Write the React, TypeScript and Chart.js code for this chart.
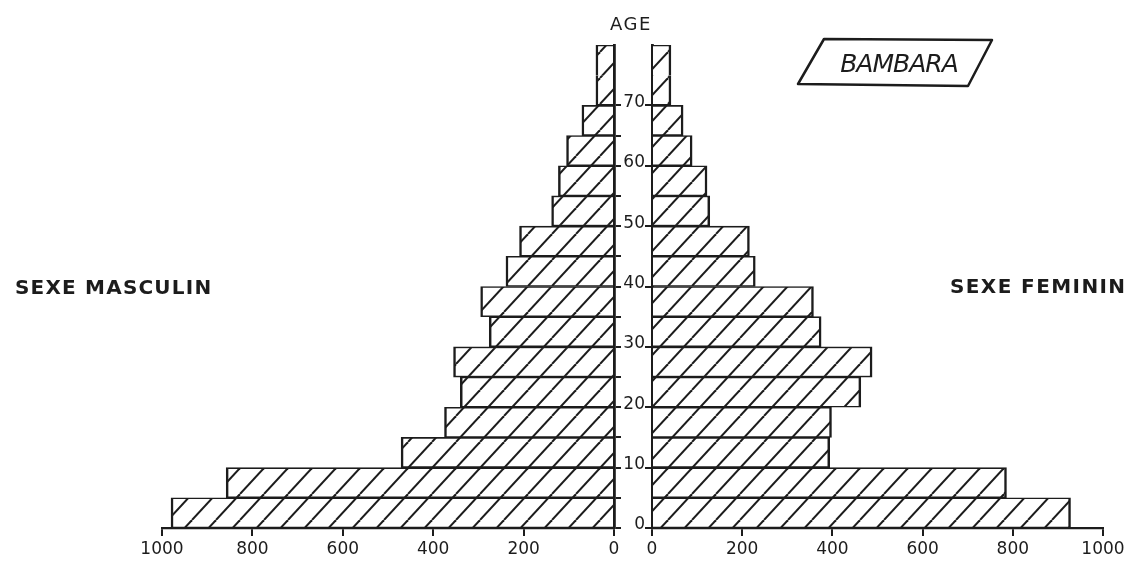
import React, { useEffect, useRef } from 'react';
import { Chart, registerables } from 'chart.js';

Chart.register(...registerables);

// ---- data ----
const ageGroups = ['0-4', '5-9', '10-14', '15-19', '20-24', '25-29', '30-34', '35-39', '40-44', '45-49', '50-54', '55-59', '60-64', '65-69', '70+'];
const groupStart = [0, 5, 10, 15, 20, 25, 30, 35, 40, 45, 50, 55, 60, 65, 70];
const groupSpan = [5, 5, 5, 5, 5, 5, 5, 5, 5, 5, 5, 5, 5, 5, 10];
const maleValues = [980, 858, 471, 375, 340, 355, 276, 295, 239, 209, 138, 123, 105, 71, 40];
const femaleValues = [928, 786, 394, 398, 463, 488, 375, 358, 229, 216, 128, 122, 89, 69, 42];
const valueTicks = [0, 200, 400, 600, 800, 1000];
const ageTicks = [0, 10, 20, 30, 40, 50, 60, 70];
const ageTickMarksMale = [0, 5, 10, 15, 20, 25, 30, 35, 40, 45, 50, 55, 60, 65, 70];
const ageMax = 80;

const INK = '#1c1c1c';
const FONT = 'DejaVu Sans';

function makeHatch(): CanvasPattern | string {
  const w = 24;
  const h = 26;
  const c = document.createElement('canvas');
  c.width = w;
  c.height = h;
  const g = c.getContext('2d');
  if (!g) return '#ffffff';
  g.fillStyle = '#ffffff';
  g.fillRect(0, 0, w, h);
  g.strokeStyle = INK;
  g.lineWidth = 2;
  for (const dx of [-w, 0, w]) {
    g.beginPath();
    g.moveTo(dx, h);
    g.lineTo(dx + w, 0);
    g.stroke();
  }
  return g.createPattern(c, 'repeat') ?? '#ffffff';
}

type Pt = { x: number; y: number; part: number; parts: number; group: string };

function buildPoints(values: number[]): Pt[] {
  const pts: Pt[] = [];
  values.forEach((v, i) => {
    const n = groupSpan[i] / 5;
    for (let k = 0; k < n; k++) {
      pts.push({ x: v, y: groupStart[i] + 5 * k + 2.5, part: k, parts: n, group: ageGroups[i] });
    }
  });
  return pts;
}

const barBorder = (isMale: boolean) => (ctx: any) => {
  const r = ctx.raw as Pt | undefined;
  const w = { top: 1.6, bottom: 1.6, left: 2.5, right: 2.5 };
  if (isMale) w.right = 0;
  else w.left = 0;
  if (r && r.parts > 1) {
    if (r.part > 0) w.bottom = 0;
    if (r.part < r.parts - 1) w.top = 0;
  }
  return w;
};

function makeChart(canvas: HTMLCanvasElement, side: 'male' | 'female', hatch: CanvasPattern | string) {
  const isMale = side === 'male';
  const tickFont = { family: FONT, size: 17 };
  const yTicks = isMale ? ageTickMarksMale : ageTicks;
  return new Chart(canvas, {
    type: 'bar',
    data: {
      datasets: [
        {
          label: isMale ? 'Sexe masculin' : 'Sexe féminin',
          data: buildPoints(isMale ? maleValues : femaleValues) as any,
          backgroundColor: hatch as any,
          borderColor: INK,
          borderWidth: barBorder(isMale) as any,
          borderSkipped: false,
          barPercentage: 1,
          categoryPercentage: 1,
          grouped: false,
        } as any,
      ],
    },
    options: {
      indexAxis: 'y',
      responsive: false,
      maintainAspectRatio: false,
      animation: false,
      events: [],
      layout: {
        padding: isMale ? { left: 162, top: 45, right: 0, bottom: 0 } : { left: 0, top: 45, right: 31, bottom: 0 },
      },
      plugins: { legend: { display: false }, tooltip: { enabled: false }, title: { display: false } },
      scales: {
        x: {
          type: 'linear',
          reverse: isMale,
          min: 0,
          max: 1000,
          afterBuildTicks: (s: any) => {
            s.ticks = valueTicks.map((v) => ({ value: v }));
          },
          ticks: {
            font: tickFont,
            color: INK,
            padding: 3,
            maxRotation: 0,
            autoSkip: false,
            callback: (v: any) => String(v),
          },
          grid: { drawOnChartArea: false, drawTicks: true, tickLength: 8, color: INK, lineWidth: 2 },
          border: { display: true, color: INK, width: 2.2 },
          afterFit: (s: any) => {
            s.height = 36;
          },
        },
        y: {
          type: 'linear',
          position: isMale ? 'right' : 'left',
          min: 0,
          max: ageMax,
          offset: false,
          afterBuildTicks: (s: any) => {
            s.ticks = yTicks.map((v) => ({ value: v }));
          },
          ticks: {
            display: !isMale,
            font: tickFont,
            color: INK,
            padding: 0,
            labelOffset: -3,
            autoSkip: false,
            callback: (v: any) => String(v),
          },
          grid: {
            offset: false,
            drawOnChartArea: false,
            drawTicks: true,
            tickLength: 7,
            lineWidth: 2,
            color: INK,
          },
          border: { display: true, color: INK, width: 2.8 },
          afterFit: (s: any) => {
            s.width = isMale ? 8 : 32;
          },
        },
      },
    } as any,
  });
}

const textBase: React.CSSProperties = {
  position: 'absolute',
  color: INK,
  fontFamily: FONT,
  whiteSpace: 'nowrap',
};

export default function App() {
  const leftRef = useRef<HTMLCanvasElement>(null);
  const rightRef = useRef<HTMLCanvasElement>(null);

  useEffect(() => {
    const hatch = makeHatch();
    const charts: Chart[] = [];
    if (leftRef.current) charts.push(makeChart(leftRef.current, 'male', hatch));
    if (rightRef.current) charts.push(makeChart(rightRef.current, 'female', hatch));
    return () => charts.forEach((c) => c.destroy());
  }, []);

  return (
    <div style={{ position: 'fixed', left: 0, top: 0, width: 1134, height: 564, background: '#ffffff', overflow: 'hidden' }}>
      <canvas ref={leftRef} width={622} height={564} style={{ position: 'absolute', left: 0, top: 0, width: 622, height: 564 }} />
      <canvas ref={rightRef} width={514} height={564} style={{ position: 'absolute', left: 620, top: 0, width: 514, height: 564 }} />
      <svg width={1134} height={564} style={{ position: 'absolute', left: 0, top: 0, pointerEvents: 'none' }}>
        <polygon points="824,39 992,40 968,86 798,84" fill="none" stroke={INK} strokeWidth={2.5} strokeLinejoin="round" />
      </svg>
      <div style={{ ...textBase, left: 631, top: 14.5, fontSize: 18, lineHeight: '18px', letterSpacing: 1.5, transform: 'translateX(-50%)' }}>AGE</div>
      <div style={{ ...textBase, left: 15, top: 276.5, fontSize: 20, lineHeight: '20px', fontWeight: 'bold', letterSpacing: 1.2 }}>SEXE MASCULIN</div>
      <div style={{ ...textBase, left: 950, top: 275.5, fontSize: 20, lineHeight: '20px', fontWeight: 'bold', letterSpacing: 1.4 }}>SEXE FEMININ</div>
      <div style={{ ...textBase, left: 899, top: 51, fontSize: 25, lineHeight: '25px', fontStyle: 'italic', letterSpacing: -1, transform: 'translateX(-50%)' }}>BAMBARA</div>
    </div>
  );
}
